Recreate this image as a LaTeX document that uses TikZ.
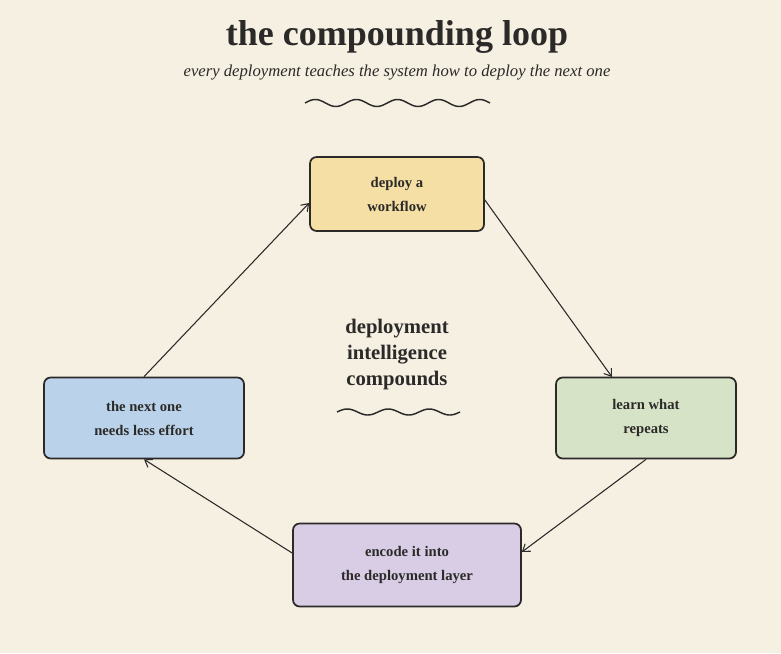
\documentclass[tikz,border=0pt]{standalone}
\usepackage{fontspec}
\setmainfont{Liberation Serif}
\usetikzlibrary{arrows.meta}
\definecolor{bg}{HTML}{F6F0E3}
\definecolor{ink}{HTML}{2B2A28}
\definecolor{cy}{HTML}{F5DFA5}
\definecolor{cg}{HTML}{D6E3C7}
\definecolor{cp}{HTML}{D9CCE5}
\definecolor{cb}{HTML}{BAD3EA}
\begin{document}
\begin{tikzpicture}[x=0.75pt,y=-0.75pt,
  box/.style={draw=ink,line width=1.3pt,rounded corners=5pt,align=center,text=ink,font=\fontsize{11}{18}\selectfont\bfseries},
  arr/.style={draw=ink,line width=0.8pt,-{Straight Barb[length=5pt,width=7pt]}},
  wave/.style={draw=ink,line width=1.1pt}]
\fill[bg] (0,0) rectangle (781,653);
\useasboundingbox (0,0) rectangle (781,653);
\node[text=ink,font=\fontsize{27}{30}\selectfont\bfseries] (title) at (397,37) {the compounding loop};
\node[text=ink,font=\fontsize{12.5}{14}\selectfont\itshape] (sub) at (397,73) {every deployment teaches the system how to deploy the next one};
\draw[wave] plot[domain=0:185,samples=120,smooth] ({305+\x},{103-3.5*sin(\x/185*4.5*360)});
\node[box,fill=cy,minimum width=174*0.75pt,minimum height=74*0.75pt] (dep) at (397,194) {deploy a\\workflow};
\node[box,fill=cg,minimum width=180*0.75pt,minimum height=81*0.75pt] (learn) at (646,418) {learn what\\repeats};
\node[box,fill=cp,minimum width=228*0.75pt,minimum height=83*0.75pt] (enc) at (407,565) {encode it into\\the deployment layer};
\node[box,fill=cb,minimum width=200*0.75pt,minimum height=81*0.75pt] (next) at (144,418) {the next one\\needs less effort};
\node[align=center,text=ink,font=\fontsize{15.5}{19.5}\selectfont\bfseries] (mid) at (397,355) {deployment\\intelligence\\compounds};
\draw[wave] plot[domain=0:123,samples=90,smooth] ({337+\x},{412-3*sin(\x/123*3*360)});
\draw[arr] (dep.east |- 0,200) -- (612,377);
\draw[arr] (learn.south) -- (enc.east |- 0,552);
\draw[arr] (enc.west |- 0,553) -- (next.south);
\draw[arr] (next.north) -- (dep.west |- 0,203);
\end{tikzpicture}
\end{document}
